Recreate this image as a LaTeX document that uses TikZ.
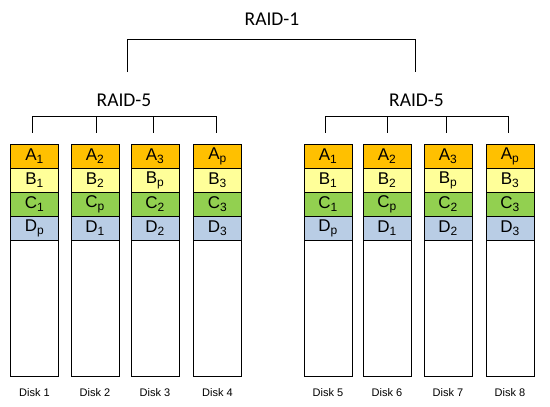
\documentclass[tikz,border=0pt]{standalone}
\usepackage{fontspec}
\setmainfont{Liberation Sans}
\newfontfamily\calfont{Carlito}
\definecolor{cA}{HTML}{FFC000}
\definecolor{cB}{HTML}{FFFF99}
\definecolor{cC}{HTML}{92D050}
\definecolor{cD}{HTML}{B9CDE5}
\newcommand\blab[2]{#1\raisebox{-3pt}{\fontsize{12}{12}\selectfont #2}}
\begin{document}
\begin{tikzpicture}[x=1pt,y=-1pt,
  blk/.style={draw, line width=0.8pt, minimum width=48pt, minimum height=24pt,
    inner sep=0pt, font=\fontsize{17}{17}\selectfont, anchor=north west},
  rest/.style={draw, line width=0.8pt, minimum width=48pt, minimum height=136pt,
    inner sep=0pt, anchor=north west},
  disklab/.style={font=\fontsize{11}{11}\selectfont, inner sep=0pt},
  raid/.style={font=\calfont\fontsize{19.5}{19.5}\selectfont, inner sep=0pt},
  br/.style={line width=0.8pt, draw=black}]
\useasboundingbox (0,0) rectangle (550,407);
\foreach \i/\x/\a/\b/\c/\d in {1/10/1/1/1/p, 2/70.5/2/2/p/1, 3/130.5/3/p/2/2, 4/193/p/3/3/3,
  5/303.5/1/1/1/p, 6/362.5/2/2/p/1, 7/423.5/3/p/2/2, 8/485.5/p/3/3/3}{
  \node[blk, fill=cA] (d\i-a) at (\x,144) {\blab{A}{\a}};
  \node[blk, fill=cB] (d\i-b) at (\x,168) {\blab{B}{\b}};
  \node[blk, fill=cC] (d\i-c) at (\x,192) {\blab{C}{\c}};
  \node[blk, fill=cD] (d\i-d) at (\x,216) {\blab{D}{\d}};
  \node[rest] (d\i-e) at (\x,240) {};
  \node[disklab] (d\i-l) at ([yshift=-15.5pt]d\i-e.south) {Disk \i};
}
\node[raid] (r1) at (272,19.5) {RAID-1};
\node[raid] (r5l) at (124,100) {RAID-5};
\node[raid] (r5r) at (416.5,100) {RAID-5};
% RAID-1 bracket
\coordinate (p1) at (127,72);
\coordinate (p2) at (415,72);
\draw[br] (p1) -- (p1 |- 0,39) -- (p2 |- 0,39) -- (p2);
% RAID-5 brackets
\foreach \g/\ka/\kb/\kc/\kd in {l/32/96/153/216, r/325/387/446/508}{
  \coordinate (\g-h1) at (\ka,116);
  \coordinate (\g-h4) at (\kd,116);
  \draw[br] (\g-h1) -- (\g-h4);
  \foreach \k in {\ka,\kb,\kc,\kd}{
    \coordinate (\g-t\k) at (\k,116);
    \coordinate (\g-b\k) at (\k,133);
    \draw[br] (\g-t\k) -- (\g-b\k);
  }
}
\end{tikzpicture}
\end{document}
